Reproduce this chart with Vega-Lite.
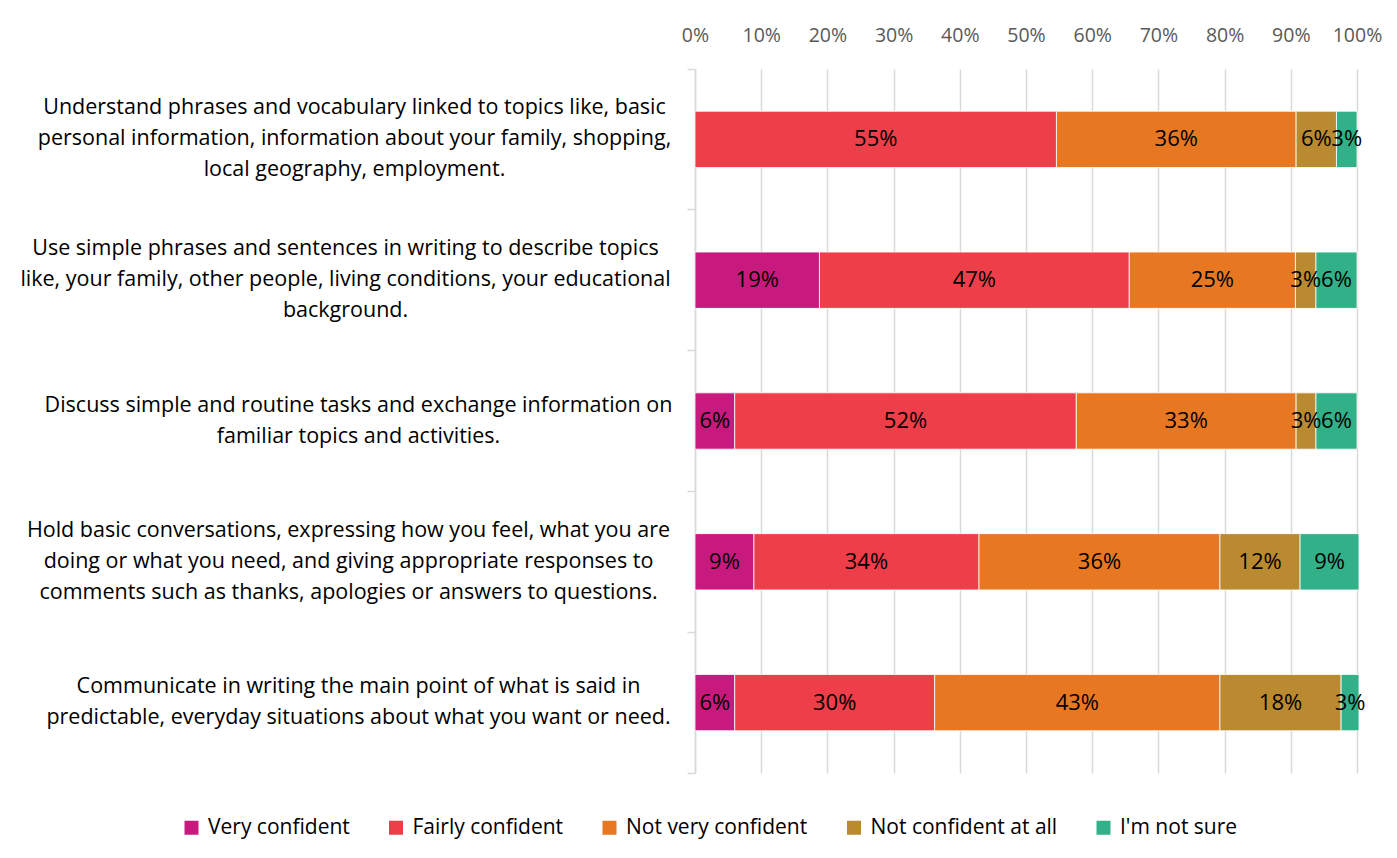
{
  "$schema": "https://vega.github.io/schema/vega-lite/v6.json",
  "width": 662,
  "height": 704,
  "autosize": {"type": "none"},
  "padding": {"left": 695, "top": 69, "right": 40, "bottom": 85},
  "background": "white",
  "config": {
    "font": "Open Sans",
    "view": {"stroke": null}
  },
  "data": {
    "values": [
      {"q": "Understand phrases and vocabulary linked to topics like, basic|personal information, information about your family, shopping,|local geography, employment.", "cat": "Fairly confident", "k": 2, "v": 0.546},
      {"q": "Understand phrases and vocabulary linked to topics like, basic|personal information, information about your family, shopping,|local geography, employment.", "cat": "Not very confident", "k": 3, "v": 0.362},
      {"q": "Understand phrases and vocabulary linked to topics like, basic|personal information, information about your family, shopping,|local geography, employment.", "cat": "Not confident at all", "k": 4, "v": 0.061},
      {"q": "Understand phrases and vocabulary linked to topics like, basic|personal information, information about your family, shopping,|local geography, employment.", "cat": "I'm not sure", "k": 5, "v": 0.031},

      {"q": "Use simple phrases and sentences in writing to describe topics|like, your family, other people, living conditions, your educational|background.", "cat": "Very confident", "k": 1, "v": 0.188},
      {"q": "Use simple phrases and sentences in writing to describe topics|like, your family, other people, living conditions, your educational|background.", "cat": "Fairly confident", "k": 2, "v": 0.468},
      {"q": "Use simple phrases and sentences in writing to describe topics|like, your family, other people, living conditions, your educational|background.", "cat": "Not very confident", "k": 3, "v": 0.251},
      {"q": "Use simple phrases and sentences in writing to describe topics|like, your family, other people, living conditions, your educational|background.", "cat": "Not confident at all", "k": 4, "v": 0.031},
      {"q": "Use simple phrases and sentences in writing to describe topics|like, your family, other people, living conditions, your educational|background.", "cat": "I'm not sure", "k": 5, "v": 0.062},

      {"q": "Discuss simple and routine tasks and exchange information on|familiar topics and activities.", "cat": "Very confident", "k": 1, "v": 0.06},
      {"q": "Discuss simple and routine tasks and exchange information on|familiar topics and activities.", "cat": "Fairly confident", "k": 2, "v": 0.516},
      {"q": "Discuss simple and routine tasks and exchange information on|familiar topics and activities.", "cat": "Not very confident", "k": 3, "v": 0.332},
      {"q": "Discuss simple and routine tasks and exchange information on|familiar topics and activities.", "cat": "Not confident at all", "k": 4, "v": 0.03},
      {"q": "Discuss simple and routine tasks and exchange information on|familiar topics and activities.", "cat": "I'm not sure", "k": 5, "v": 0.062},

      {"q": "Hold basic conversations, expressing how you feel, what you are|doing or what you need, and giving appropriate responses to|comments such as thanks, apologies or answers to questions.", "cat": "Very confident", "k": 1, "v": 0.089},
      {"q": "Hold basic conversations, expressing how you feel, what you are|doing or what you need, and giving appropriate responses to|comments such as thanks, apologies or answers to questions.", "cat": "Fairly confident", "k": 2, "v": 0.34},
      {"q": "Hold basic conversations, expressing how you feel, what you are|doing or what you need, and giving appropriate responses to|comments such as thanks, apologies or answers to questions.", "cat": "Not very confident", "k": 3, "v": 0.364},
      {"q": "Hold basic conversations, expressing how you feel, what you are|doing or what you need, and giving appropriate responses to|comments such as thanks, apologies or answers to questions.", "cat": "Not confident at all", "k": 4, "v": 0.121},
      {"q": "Hold basic conversations, expressing how you feel, what you are|doing or what you need, and giving appropriate responses to|comments such as thanks, apologies or answers to questions.", "cat": "I'm not sure", "k": 5, "v": 0.089},

      {"q": "Communicate in writing the main point of what is said in|predictable, everyday situations about what you want or need.", "cat": "Very confident", "k": 1, "v": 0.06},
      {"q": "Communicate in writing the main point of what is said in|predictable, everyday situations about what you want or need.", "cat": "Fairly confident", "k": 2, "v": 0.302},
      {"q": "Communicate in writing the main point of what is said in|predictable, everyday situations about what you want or need.", "cat": "Not very confident", "k": 3, "v": 0.431},
      {"q": "Communicate in writing the main point of what is said in|predictable, everyday situations about what you want or need.", "cat": "Not confident at all", "k": 4, "v": 0.183},
      {"q": "Communicate in writing the main point of what is said in|predictable, everyday situations about what you want or need.", "cat": "I'm not sure", "k": 5, "v": 0.027}
    ]
  },
  "encoding": {
    "y": {
      "field": "q",
      "type": "nominal",
      "sort": null,
      "scale": {"paddingInner": 0, "paddingOuter": 0},
      "axis": {
        "title": null,
        "labelExpr": "isString(datum.value) ? split(datum.value, '|') : ''",
        "labelAlign": "center",
        "labelBaseline": "middle",
        "labelOffset": {"condition": {"test": "isString(datum.value) && length(split(datum.value, '|')) == 2", "value": -15.5}, "value": -31},
        "labelPadding": {"condition": [
          {"test": "isString(datum.value) && indexof(datum.value, 'Use ') == 0", "value": 342},
          {"test": "isString(datum.value) && indexof(datum.value, 'Discuss') == 0", "value": 329},
          {"test": "isString(datum.value) && indexof(datum.value, 'Hold') == 0", "value": 339},
          {"test": "isString(datum.value) && indexof(datum.value, 'Communicate') == 0", "value": 329}
        ], "value": 333},
        "labelLimit": 0,
        "labelFontSize": 21.5,
        "labelLineHeight": 31,
        "labelColor": "#000000",
        "domainColor": "#d9d9d9",
        "domainWidth": 1.5,
        "tickColor": "#d9d9d9",
        "tickWidth": 1.5,
        "tickSize": 8,
        "bandPosition": 1,
        "tickExtra": true,
        "grid": false
      }
    }
  },
  "layer": [
    {
      "mark": {"type": "bar", "height": {"band": 0.4}, "stroke": "#ffffff", "strokeWidth": 0.8, "clip": false},
      "encoding": {
        "x": {
          "field": "v",
          "type": "quantitative",
          "stack": "zero",
          "scale": {"domain": [0, 1], "nice": false, "zero": true},
          "axis": {
            "orient": "top",
            "title": null,
            "format": ".0%",
            "values": [0, 0.1, 0.2, 0.3, 0.4, 0.5, 0.6, 0.7, 0.8, 0.9, 1],
            "labelOverlap": false,
            "labelFlush": false,
            "domain": false,
            "ticks": false,
            "labelPadding": 24,
            "labelFontSize": 19.5,
            "labelColor": "#595959",
            "grid": true,
            "gridColor": "#d9d9d9",
            "gridWidth": 1.5
          }
        },
        "color": {
          "field": "cat",
          "type": "nominal",
          "sort": ["Very confident", "Fairly confident", "Not very confident", "Not confident at all", "I'm not sure"],
          "scale": {
            "domain": ["Very confident", "Fairly confident", "Not very confident", "Not confident at all", "I'm not sure"],
            "range": ["#c81a7e", "#ee3e4a", "#e87722", "#b98a30", "#32b088"]
          },
          "legend": {
            "title": null,
            "orient": "none",
            "legendX": -514,
            "legendY": 748,
            "direction": "horizontal",
            "columns": 5,
            "padding": 0,
            "symbolType": "square",
            "symbolSize": 196,
            "symbolStrokeWidth": 0,
            "labelFontSize": 21,
            "labelColor": "#000000",
            "labelOffset": 6,
            "columnPadding": 35.5,
            "labelLimit": 0
          }
        },
        "order": {"field": "k", "type": "quantitative"}
      }
    },
    {
      "transform": [
        {"stack": "v", "groupby": ["q"], "sort": [{"field": "k", "order": "ascending"}], "as": ["x0", "x1"]},
        {"fold": ["x0", "x1"], "as": ["edge", "pos"]}
      ],
      "mark": {"type": "text", "fontSize": 22, "color": "#000000", "align": "center", "baseline": "middle", "clip": false},
      "encoding": {
        "x": {"field": "pos", "type": "quantitative", "aggregate": "mean"},
        "detail": {"field": "cat", "type": "nominal"},
        "text": {"field": "v", "type": "quantitative", "aggregate": "max", "format": ".0%"}
      }
    }
  ]
}
